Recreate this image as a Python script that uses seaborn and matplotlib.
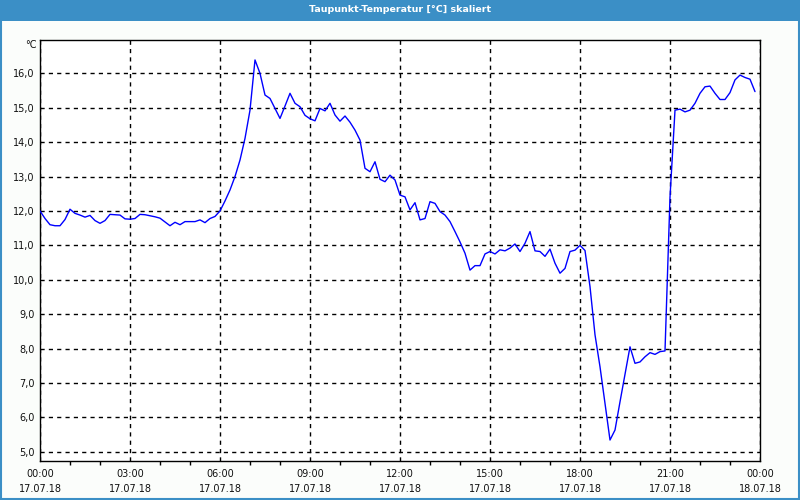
import matplotlib
matplotlib.use("Agg")
import matplotlib.pyplot as plt
from matplotlib.patches import Rectangle
from matplotlib.ticker import FixedLocator, MultipleLocator
import numpy as np
import pandas as pd
import seaborn as sns

# ---- data (10-minute readings, 17.07.18 00:00 .. 23:50) ----
dewpoint = [
    12.00, 11.78, 11.60, 11.57, 11.57, 11.75, 12.05, 11.93, 11.88, 11.82,
    11.87, 11.72, 11.64, 11.72, 11.90, 11.89, 11.88, 11.77, 11.76, 11.78,
    11.90, 11.89, 11.86, 11.83, 11.79, 11.68, 11.57, 11.67, 11.60, 11.69,
    11.69, 11.69, 11.74, 11.66, 11.78, 11.84, 12.00, 12.29, 12.61, 13.00,
    13.48, 14.11, 14.93, 16.39, 16.00, 15.37, 15.27, 14.98, 14.69, 15.05,
    15.42, 15.13, 15.03, 14.78, 14.68, 14.62, 14.98, 14.91, 15.13, 14.79,
    14.61, 14.76, 14.58, 14.35, 14.06, 13.24, 13.14, 13.43, 12.92, 12.85,
    13.04, 12.90, 12.46, 12.41, 12.03, 12.24, 11.74, 11.78, 12.27, 12.22,
    11.98, 11.88, 11.69, 11.40, 11.10, 10.77, 10.28, 10.41, 10.41, 10.75,
    10.82, 10.75, 10.87, 10.84, 10.92, 11.04, 10.82, 11.06, 11.40, 10.84,
    10.82, 10.68, 10.89, 10.48, 10.19, 10.33, 10.82, 10.86, 11.00, 10.85,
    9.80, 8.40, 7.47, 6.40, 5.34, 5.63, 6.45, 7.25, 8.05, 7.57,
    7.61, 7.76, 7.88, 7.83, 7.91, 7.93, 12.40, 14.93, 14.96, 14.88,
    14.93, 15.13, 15.42, 15.61, 15.63, 15.42, 15.24, 15.24, 15.44, 15.81,
    15.95, 15.88, 15.83, 15.47,
]
minutes_step = 10
hours = [i * minutes_step / 60.0 for i in range(len(dewpoint))]

x_tick_hours = [0, 3, 6, 9, 12, 15, 18, 21, 24]
x_tick_labels = ["00:00\n17.07.18", "03:00\n17.07.18", "06:00\n17.07.18",
                 "09:00\n17.07.18", "12:00\n17.07.18", "15:00\n17.07.18",
                 "18:00\n17.07.18", "21:00\n17.07.18", "00:00\n18.07.18"]
y_ticks = [5, 6, 7, 8, 9, 10, 11, 12, 13, 14, 15, 16]
y_tick_labels = ["5,0", "6,0", "7,0", "8,0", "9,0", "10,0", "11,0", "12,0",
                 "13,0", "14,0", "15,0", "16,0"]
title = "Taupunkt-Temperatur [°C] skaliert"
unit = "°C"

df = pd.DataFrame({"hour": hours, "value": dewpoint})

sns.set_style("white")
plt.rcParams["font.family"] = ["DejaVu Sans"]

fig = plt.figure(figsize=(8, 5), dpi=100)
fig.patch.set_facecolor("#fbfdfb")
ax = fig.add_axes([40 / 800, 1 - 461 / 500, 720 / 800, 421 / 500])
ax.set_facecolor("white")

sns.lineplot(data=df, x="hour", y="value", color="#0000ff", linewidth=1.0,
             estimator=None, ax=ax, zorder=3)

ax.set_xlim(0, 24)
ax.set_ylim(4.73, 16.97)

ax.xaxis.set_major_locator(FixedLocator(x_tick_hours))
ax.set_xticklabels(x_tick_labels)
ax.xaxis.set_minor_locator(MultipleLocator(1))
ax.set_yticks(y_ticks)
ax.set_yticklabels(y_tick_labels)

ax.tick_params(axis="x", which="major", direction="out", length=3, width=1,
               color="black", labelsize=7, pad=3, labelcolor="#101010")
ax.tick_params(axis="x", which="minor", direction="out", length=3, width=1,
               color="black", bottom=True)
ax.tick_params(axis="y", which="major", length=0, labelsize=7, pad=4,
               labelcolor="#101010")
for lbl in ax.get_xticklabels():
    lbl.set_linespacing(1.6)

ax.set_xlabel("")
ax.set_ylabel("")

ax.grid(True, which="major", color="black", linestyle=(0, (3, 3)),
        linewidth=1.0)
ax.set_axisbelow(True)
for s in ax.spines.values():
    s.set_visible(True)
    s.set_color("black")
    s.set_linewidth(1.0)

ax.text(-0.004, 1.0 - 5 / 421, unit, transform=ax.transAxes, ha="right",
        va="center", fontsize=7, color="#101010")

# title bar and window border
fig.patches.append(Rectangle((0, 1 - 21 / 500), 1, 21 / 500,
                             transform=fig.transFigure, facecolor="#3b8fc6",
                             edgecolor="none", zorder=0))
fig.patches.append(Rectangle((0.001, 0.002), 0.998, 0.99,
                             transform=fig.transFigure, facecolor="none",
                             edgecolor="#3b8fc6", linewidth=1.5, zorder=0))
fig.text(0.5, 1 - 10 / 500, title, ha="center", va="center", fontsize=6.8,
         color="white", fontweight="bold")

fig.savefig("out.png", dpi=100, facecolor=fig.get_facecolor())
